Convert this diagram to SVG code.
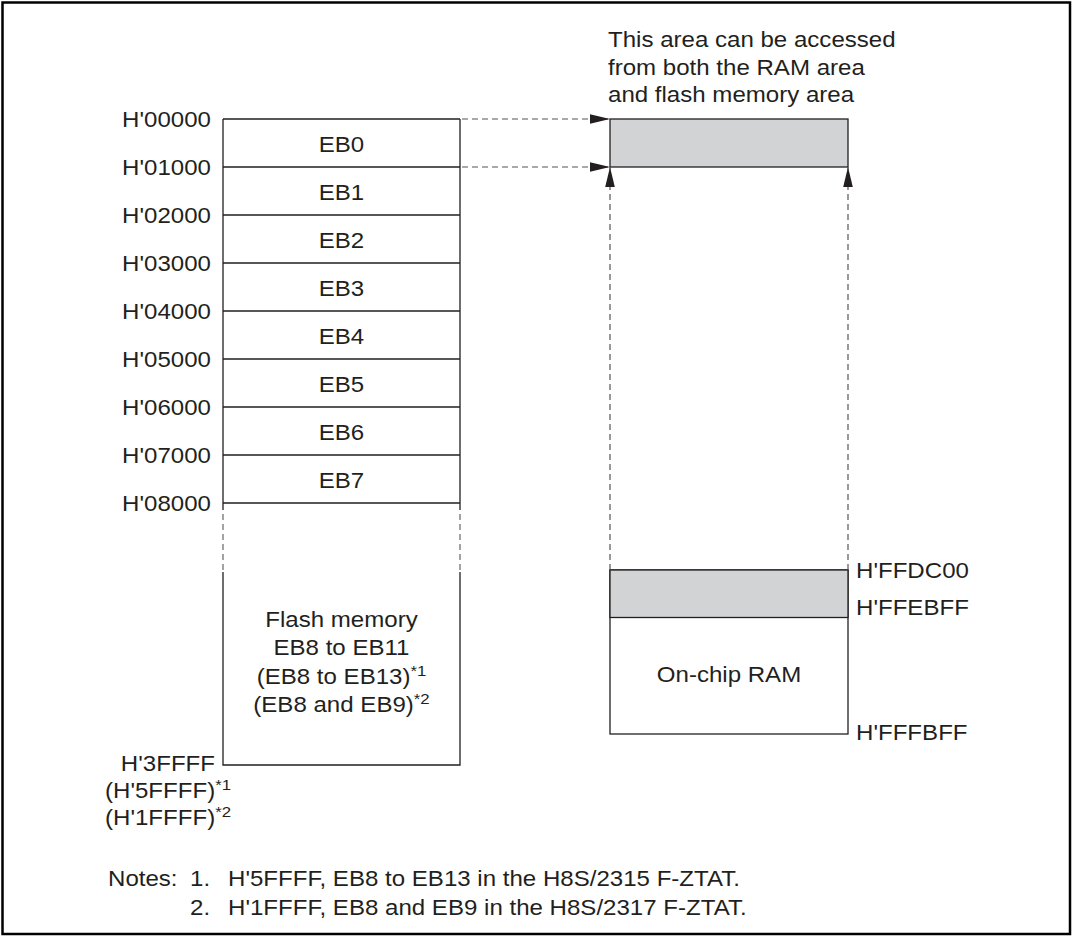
<svg xmlns="http://www.w3.org/2000/svg" width="1073" height="937" viewBox="0 0 1073 937">
<style>
  text { font-family: "Liberation Sans", Arial, sans-serif; font-size: 21.5px; fill: #231f20; }
  .sup { font-size: 15px; }
  .box { fill: #ffffff; stroke: #231f20; stroke-width: 1.3; }
  .shade { fill: #d1d3d4; stroke: #231f20; stroke-width: 1.3; }
  .ln { stroke: #231f20; stroke-width: 1.3; fill: none; }
  .dash { stroke: #555555; stroke-width: 1.2; stroke-dasharray: 6 4; fill: none; }
  .dashv { stroke: #666666; stroke-width: 1.2; stroke-dasharray: 6 4; fill: none; }
</style>
<defs>
  <marker id="arr" markerUnits="userSpaceOnUse" markerWidth="20" markerHeight="10" refX="20" refY="5" orient="auto">
    <path d="M0,0.2 L20,5 L0,9.8 Z" fill="#231f20" stroke="none"/>
  </marker>
</defs>
<rect x="2.5" y="2.5" width="1067.5" height="931.5" fill="#ffffff" stroke="#000000" stroke-width="2.5"/>

<g id="flash-memory-map">
  <path class="ln" d="M223,119 H460 M223,119 V510 M460,119 V510 M223,572 V765 H460 V572"/>
  <path class="ln" d="M223,167 H460 M223,215 H460 M223,263 H460 M223,311 H460 M223,359 H460 M223,407 H460 M223,455 H460 M223,503 H460"/>
  <path class="dashv" d="M223,514 V572 M460,514 V572"/>
</g>
<g id="eb-labels">
  <text transform="translate(341.5,151.5) scale(1.12,1)" text-anchor="middle">EB0</text>
  <text transform="translate(341.5,199.5) scale(1.12,1)" text-anchor="middle">EB1</text>
  <text transform="translate(341.5,247.5) scale(1.12,1)" text-anchor="middle">EB2</text>
  <text transform="translate(341.5,295.5) scale(1.12,1)" text-anchor="middle">EB3</text>
  <text transform="translate(341.5,343.5) scale(1.12,1)" text-anchor="middle">EB4</text>
  <text transform="translate(341.5,391.5) scale(1.12,1)" text-anchor="middle">EB5</text>
  <text transform="translate(341.5,439.5) scale(1.12,1)" text-anchor="middle">EB6</text>
  <text transform="translate(341.5,487.5) scale(1.12,1)" text-anchor="middle">EB7</text>
</g>
<g id="flash-label">
  <text transform="translate(341.5,626.5) scale(1.12,1)" text-anchor="middle">Flash memory</text>
  <text transform="translate(341.5,655) scale(1.12,1)" text-anchor="middle">EB8 to EB11</text>
  <text transform="translate(341.5,683.5) scale(1.12,1)" text-anchor="middle">(EB8 to EB13)<tspan class="sup" dy="-8">*1</tspan></text>
  <text transform="translate(341.5,712) scale(1.12,1)" text-anchor="middle">(EB8 and EB9)<tspan class="sup" dy="-8">*2</tspan></text>
</g>
<g id="address-labels">
  <text transform="translate(211,127) scale(1.12,1)" text-anchor="end">H'00000</text>
  <text transform="translate(211,175) scale(1.12,1)" text-anchor="end">H'01000</text>
  <text transform="translate(211,223) scale(1.12,1)" text-anchor="end">H'02000</text>
  <text transform="translate(211,271) scale(1.12,1)" text-anchor="end">H'03000</text>
  <text transform="translate(211,319) scale(1.12,1)" text-anchor="end">H'04000</text>
  <text transform="translate(211,367) scale(1.12,1)" text-anchor="end">H'05000</text>
  <text transform="translate(211,415) scale(1.12,1)" text-anchor="end">H'06000</text>
  <text transform="translate(211,463) scale(1.12,1)" text-anchor="end">H'07000</text>
  <text transform="translate(211,511) scale(1.12,1)" text-anchor="end">H'08000</text>
  <text transform="translate(215,770.5) scale(1.12,1)" text-anchor="end">H'3FFFF</text>
  <text transform="translate(105,797.5) scale(1.12,1)">(H'5FFFF)<tspan class="sup" dy="-8">*1</tspan></text>
  <text transform="translate(105,825) scale(1.12,1)">(H'1FFFF)<tspan class="sup" dy="-8">*2</tspan></text>
</g>

<g id="shared-area">
  <rect class="shade" x="610" y="119" width="238" height="48"/>
</g>
<g id="on-chip-ram">
  <rect class="box" x="610" y="570" width="238" height="164"/>
  <rect class="shade" x="610" y="570" width="238" height="47.5"/>
  <text transform="translate(729,681.5) scale(1.12,1)" text-anchor="middle">On-chip RAM</text>
</g>
<g id="ram-labels">
  <text transform="translate(856,578) scale(1.12,1)">H'FFDC00</text>
  <text transform="translate(856,614.5) scale(1.12,1)">H'FFEBFF</text>
  <text transform="translate(856,740) scale(1.12,1)">H'FFFBFF</text>
</g>
<g id="caption">
  <text transform="translate(608,47) scale(1.12,1)">This area can be accessed</text>
  <text transform="translate(608,74.5) scale(1.12,1)">from both the RAM area</text>
  <text transform="translate(608,102) scale(1.12,1)">and flash memory area</text>
</g>

<g id="connectors">
  <path class="dash" d="M462,119 H610" marker-end="url(#arr)"/>
  <path class="dash" d="M462,167 H610" marker-end="url(#arr)"/>
  <path class="dash" d="M610,570 V167" marker-end="url(#arr)"/>
  <path class="dash" d="M848,570 V167" marker-end="url(#arr)"/>
</g>

<g id="notes">
  <text transform="translate(108,886) scale(1.12,1)">Notes:</text>
  <text transform="translate(190,886) scale(1.12,1)">1.</text>
  <text transform="translate(228,886) scale(1.12,1)">H'5FFFF, EB8 to EB13 in the H8S/2315 F-ZTAT.</text>
  <text transform="translate(190,915) scale(1.12,1)">2.</text>
  <text transform="translate(228,915) scale(1.12,1)">H'1FFFF, EB8 and EB9 in the H8S/2317 F-ZTAT.</text>
</g>
</svg>
